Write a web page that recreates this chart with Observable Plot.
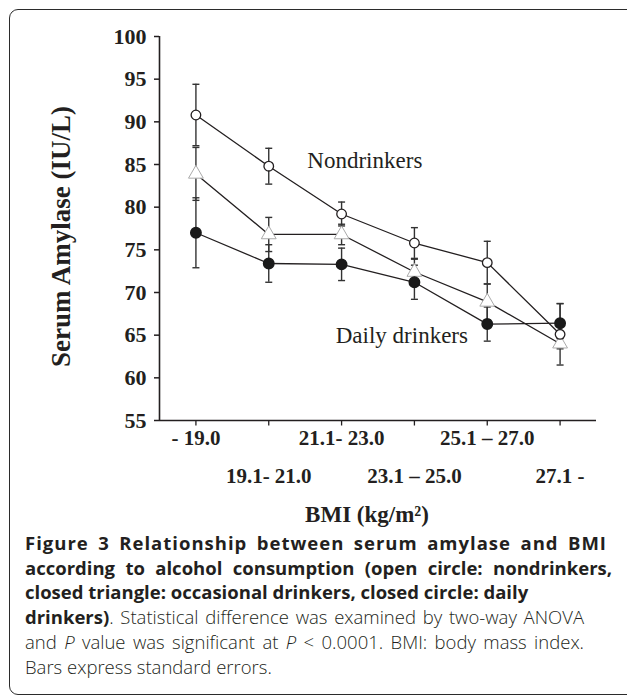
<!DOCTYPE html>
<html>
<head>
<meta charset="utf-8">
<script src="https://cdn.jsdelivr.net/npm/d3@7"></script>
<script src="https://cdn.jsdelivr.net/npm/@observablehq/plot@0.6"></script>
<style>
  html, body { margin: 0; padding: 0; background: #fff; width: 627px; height: 695px; overflow: hidden; }
  #frame { position: absolute; left: 9px; top: 9px; width: 700px; height: 686px; border: 1.5px solid #2b2b2b; border-radius: 9px; box-sizing: border-box; }
  #chart { position: absolute; left: 0; top: 0; }
  #caption { position: absolute; left: 25px; top: 531px; font-family: "Open Sans", sans-serif; font-size: 18.5px; line-height: 24.7px; color: #231f20; }
  #caption div { white-space: nowrap; }
  #caption .b { font-weight: 700; }
  #caption .r { font-weight: 300; }
  #caption .l1 { letter-spacing: 1.0px; text-align: justify; text-align-last: justify; width: 582px; }
  #caption .l2 { text-align: justify; text-align-last: justify; width: 587px; }
  #caption .j { text-align: justify; text-align-last: justify; width: 559px; }
</style>
</head>
<body>
<div id="frame"></div>
<div id="chart"></div>
<div id="caption">
  <div class="b l1">Figure 3 Relationship between serum amylase and BMI</div>
  <div class="b l2">according to alcohol consumption (open circle: nondrinkers,</div>
  <div class="b">closed triangle: occasional drinkers, closed circle: daily</div>
  <div class="j"><span class="b">drinkers)</span><span class="r">. Statistical difference was examined by two-way ANOVA</span></div>
  <div class="r j">and <i>P</i> value was significant at <i>P</i> &lt; 0.0001. BMI: body mass index.</div>
  <div class="r">Bars express standard errors.</div>
</div>
<script>
// ---- data ----
const categories = ["- 19.0", "19.1- 21.0", "21.1- 23.0", "23.1 – 25.0", "25.1 – 27.0", "27.1 -"];
const nondrinkersMean = [90.8, 84.8, 79.2, 75.8, 73.5, 65.1];
const nondrinkersSE   = [3.6, 2.1, 1.4, 1.8, 2.5, 3.6];
const occasionalMean  = [83.9, 76.8, 76.8, 72.4, 68.9, 64.0];
const occasionalSE    = [3.1, 2.0, 1.2, 1.5, 2.1, 0.6];
const dailyMean       = [77.0, 73.4, 73.3, 71.2, 66.3, 66.4];
const dailySE         = [4.1, 2.2, 1.9, 2.0, 2.0, 2.3];
const yTicks = [55, 60, 65, 70, 75, 80, 85, 90, 95, 100];
const annotationText = ["Nondrinkers", "Daily drinkers"];
const annotationX = [1.53, 1.92];
const annotationY = [85.4, 64.9];
const yLabel = "Serum Amylase (IU/L)";
const xLabel = "BMI (kg/m²)";

// ---- build rows ----
const idx = d3.range(categories.length);
function rows(mean, se, group) {
  return idx.map(i => ({i, group, y: mean[i], lo: mean[i] - se[i], hi: mean[i] + se[i]}));
}
const nd = rows(nondrinkersMean, nondrinkersSE, "Nondrinkers");
const oc = rows(occasionalMean, occasionalSE, "Occasional drinkers");
const dl = rows(dailyMean, dailySE, "Daily drinkers");
const all = [...nd, ...oc, ...dl];
const caps = all.flatMap(d => [{i: d.i, y: d.lo}, {i: d.i, y: d.hi}]);
const annotations = annotationText.map((t, k) => ({t, x: annotationX[k], y: annotationY[k]}));

const capSymbol = { draw(ctx, size) { const w = 3.5; ctx.moveTo(-w, 0); ctx.lineTo(w, 0); } };
const xTickSymbol = { draw(ctx, size) { ctx.moveTo(0, 0); ctx.lineTo(0, 5); } };

const ink = "#231f20";
const serif = "'Liberation Serif', 'Times New Roman', serif";

const chart = Plot.plot({
  width: 627,
  height: 530,
  marginLeft: 159,
  marginRight: 31,
  marginTop: 36,
  marginBottom: 110,
  x: {type: "linear", domain: [-0.5, 5.5], axis: null},
  y: {domain: [55, 100], axis: null},
  style: {background: "transparent", fontFamily: serif, color: ink, overflow: "visible"},
  marks: [
    // y axis
    Plot.axisY({ticks: yTicks, tickSize: 5, tickPadding: 8, fontSize: 22, fontWeight: "bold", label: null, strokeWidth: 1.5, stroke: ink, fill: ink}),
    Plot.ruleX([-0.5], {stroke: ink, strokeWidth: 1.6}),
    // x axis
    Plot.ruleY([55], {stroke: ink, strokeWidth: 1.6}),
    Plot.dot(idx, {x: d => d, y: 55, symbol: xTickSymbol, stroke: ink, strokeWidth: 1.3, r: 3}),
    Plot.text(idx.filter(i => i % 2 === 0), {x: d => d, text: d => categories[d], frameAnchor: "bottom", dy: 18, textAnchor: "middle", lineAnchor: "middle", fontSize: 21, fontWeight: "bold", fill: ink}),
    Plot.text(idx.filter(i => i % 2 === 1), {x: d => d, text: d => categories[d], frameAnchor: "bottom", dy: 56, textAnchor: "middle", lineAnchor: "middle", fontSize: 21, fontWeight: "bold", fill: ink}),
    // axis titles
    Plot.text([xLabel], {text: d => d, frameAnchor: "bottom", dy: 94, dx: -11, textAnchor: "middle", lineAnchor: "middle", fontSize: 23, fontWeight: "bold", fill: ink}),
    Plot.text([yLabel], {text: d => d, frameAnchor: "left", dx: -98, dy: 8, rotate: -90, textAnchor: "middle", lineAnchor: "middle", fontSize: 27, fontWeight: "bold", fill: ink}),
    // error bars
    Plot.ruleX(all, {x: "i", y1: "lo", y2: "hi", stroke: "#333", strokeWidth: 1.4}),
    Plot.dot(caps, {x: "i", y: "y", symbol: capSymbol, stroke: "#333", strokeWidth: 1.4, r: 3}),
    // lines
    Plot.line(dl, {x: "i", y: "y", stroke: ink, strokeWidth: 1.3}),
    Plot.line(oc, {x: "i", y: "y", stroke: ink, strokeWidth: 1.3}),
    Plot.line(nd, {x: "i", y: "y", stroke: ink, strokeWidth: 1.3}),
    // markers
    Plot.dot(oc, {x: "i", y: "y", symbol: "triangle", r: 5.5, fill: "#fff", stroke: "#aaa", strokeWidth: 1}),
    Plot.dot(dl, {x: "i", y: "y", r: 5.2, fill: "#1a1a1a", stroke: "#1a1a1a"}),
    Plot.dot(nd, {x: "i", y: "y", r: 4.8, fill: "#fff", stroke: ink, strokeWidth: 1.3}),
    // annotations
    Plot.text(annotations, {x: "x", y: "y", text: "t", textAnchor: "start", lineAnchor: "middle", fontSize: 23, fill: ink})
  ]
});
document.getElementById("chart").appendChild(chart);
</script>
</body>
</html>
